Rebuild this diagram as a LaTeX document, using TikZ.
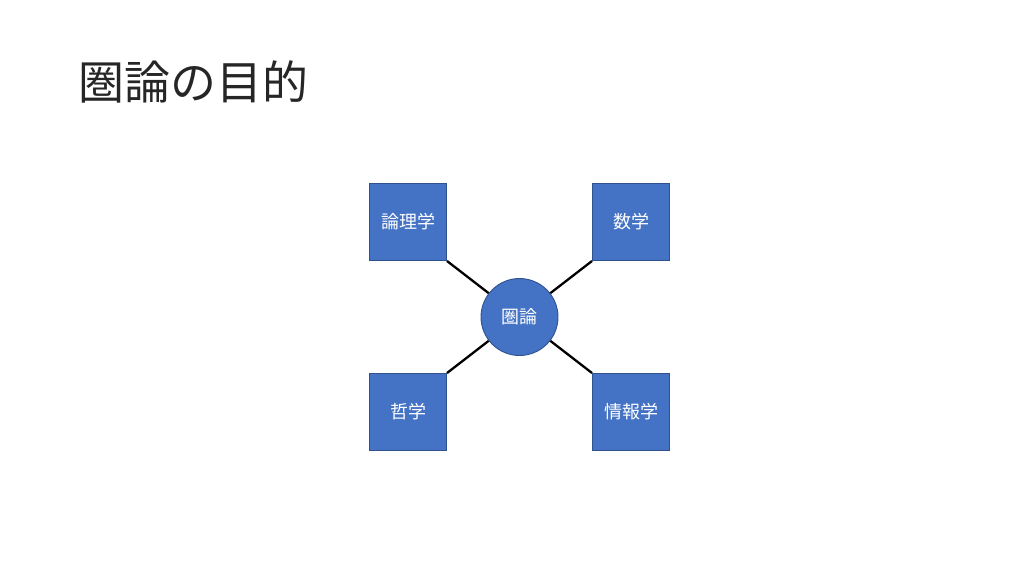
\documentclass[tikz,border=0pt]{standalone}
\usepackage{fontspec}
\newfontfamily\cjk{Noto Sans CJK JP}
\usetikzlibrary{positioning}

\definecolor{officeblue}{HTML}{4472C4}
\definecolor{officeedge}{HTML}{2F528F}

\begin{document}
\begin{tikzpicture}[x=1pt, y=-1pt,
    field/.style={rectangle, draw=officeedge, fill=officeblue, line width=0.9pt,
                  minimum size=77pt, inner sep=0pt, text=white, font=\cjk\fontsize{18}{20}\selectfont},
    hub/.style={circle, draw=officeedge, fill=officeblue, line width=0.9pt,
                minimum size=77pt, inner sep=0pt, text=white, font=\cjk\fontsize{18}{20}\selectfont},
    link/.style={line width=2.3pt, black}]

    \useasboundingbox (0,0) rectangle (1024,576);

    \node[anchor=west, text=black!85, font=\cjk\fontsize{46}{50}\selectfont] (ttl) at (75,82) {圏論の目的};

    \node[hub] (cat) at (519.5,317) {圏論};
    \node[field, above left=28.5pt and 45pt of cat] (logic) {論理学};
    \node[field, above right=28.5pt and 45pt of cat] (math) {数学};
    \node[field, below left=28.5pt and 45pt of cat] (phil) {哲学};
    \node[field, below right=28.5pt and 45pt of cat] (info) {情報学};

    \draw[link] (logic.south east) -- (cat);
    \draw[link] (math.south west) -- (cat);
    \draw[link] (phil.north east) -- (cat);
    \draw[link] (info.north west) -- (cat);
\end{tikzpicture}
\end{document}
